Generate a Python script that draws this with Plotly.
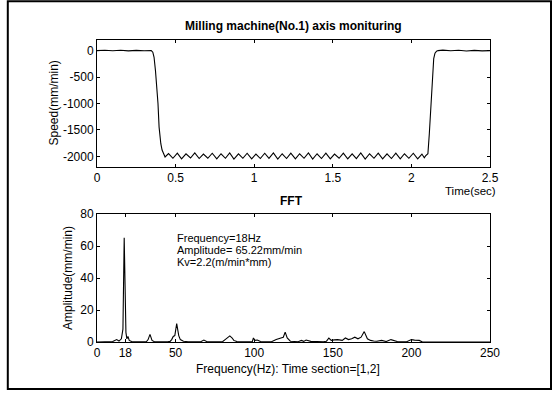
import plotly.graph_objects as go

# ---------------- data ----------------
time_s = [0.0, 0.05, 0.10, 0.15, 0.20, 0.25, 0.30, 0.345,
          0.355, 0.363, 0.372, 0.380, 0.388, 0.395, 0.401, 0.406, 0.414, 0.423, 0.433,
          0.455, 0.483, 0.511, 0.538, 0.566, 0.595, 0.622, 0.650, 0.677, 0.705,
          0.733, 0.762, 0.789, 0.817, 0.844, 0.871, 0.900, 0.928, 0.955, 0.984,
          1.011, 1.039, 1.067, 1.094, 1.122, 1.150, 1.178, 1.206, 1.233, 1.262,
          1.289, 1.317, 1.345, 1.372, 1.400, 1.428, 1.456, 1.484, 1.511, 1.540,
          1.567, 1.595, 1.623, 1.650, 1.678, 1.706, 1.734, 1.762, 1.789, 1.817,
          1.845, 1.873, 1.901, 1.929, 1.956, 1.984, 2.012, 2.040, 2.067, 2.082,
          2.090, 2.100, 2.105, 2.114, 2.120, 2.125, 2.130, 2.135, 2.142, 2.150,
          2.160, 2.170, 2.20, 2.25, 2.30, 2.35, 2.40, 2.45, 2.50]
speed = [0, 6, -4, 5, -6, 4, -3, 0,
         -30, -126, -380, -630, -1000, -1447, -1650, -1760, -1880, -1950, -2010,
         -1945, -2035, -1940, -2045, -1950, -2030, -1935, -2040, -1955, -2035,
         -1940, -2045, -1950, -2035, -1935, -2050, -1950, -2035, -1940, -2045,
         -1955, -2040, -1940, -2035, -1935, -2050, -1950, -2040, -1940, -2045,
         -1950, -2035, -1935, -2050, -1950, -2040, -1940, -2045, -1955, -2035,
         -1940, -2045, -1950, -2040, -1935, -2050, -1950, -2035, -1940, -2045,
         -1950, -2040, -1940, -2045, -1950, -2035, -1940, -2045, -1955, -2025,
         -1990, -1960, -1950, -1572, -1250, -943, -600, -315, -150, -50,
         -10, 0, 8, -4, 6, -7, 3, -5, 0]

freq_hz = [0, 10, 12.5, 14, 15.5, 16.5, 17.3, 18.4, 19.0, 19.7, 20.5, 22,
           28, 30.5, 31.5, 32.5, 33.7, 35, 36.5,
           45, 46.5, 47.5, 48.5, 49.5, 50.7, 52, 53, 55, 58,
           66, 68, 70,
           80, 81.5, 83, 84.5, 86, 87, 89,
           98.8, 99.5, 100.5, 102, 104,
           111, 112, 114, 117, 118.5, 119.7, 121, 123,
           128, 130, 131.5, 133, 136,
           144, 146, 147.5, 149, 151, 153, 156, 158, 160, 162, 164, 166, 168,
           170, 172, 174, 176, 178, 181, 184, 187, 189, 191,
           197, 198, 200, 202, 205, 207, 250]
amplitude = [0, 0.3, 1.5, 0.6, 2, 8, 65.22, 6, 2, 3.5, 1, 0.3,
             0.2, 0.6, 0.3, 1.5, 4.8, 1, 0.2,
             0.2, 0.4, 1.5, 3.5, 4, 11.5, 4, 1.5, 0.5, 0.2,
             0.2, 1.2, 0.2,
             0.3, 1.5, 2.8, 3.8, 2.5, 1, 0.3,
             0.2, 2.5, 1, 1.2, 0.3,
             0.2, 0.5, 1.5, 2.5, 3, 6.2, 2.5, 0.5,
             0.2, 1, 0.4, 1.2, 0.4,
             0.2, 0.5, 2.5, 1, 1.3, 1.5, 1, 2.5, 1.5, 2, 3, 2, 3,
             6.5, 2, 1, 0.6, 0.5, 1, 0.3, 1.5, 1, 0.3,
             0.2, 0.5, 1.5, 1.2, 1, 0, 0]

top_xticks = [0, 0.5, 1, 1.5, 2, 2.5]
top_yticks = [0, -500, -1000, -1500, -2000]
bot_xticks = [0, 18, 50, 100, 150, 200, 250]
bot_yticks = [0, 20, 40, 60, 80]

peak_lines = ["Frequency=18Hz", "Amplitude= 65.22mm/min", "Kv=2.2(m/min*mm)"]
peak_line_px = [237.5, 249.5, 261.5]

# ---------------- figure ----------------
FONT = "Liberation Sans, Arial, Helvetica, sans-serif"
FS = 12
W, H = 556, 396
L, R, T, B = 97, 66, 40, 54
PW, PH = W - L - R, H - T - B


def px(x):
    return (x - L) / PW


def py(y):
    return (H - B - y) / PH


fig = go.Figure()
fig.add_trace(go.Scatter(x=time_s, y=speed, mode="lines",
                         line=dict(color="black", width=1.1),
                         xaxis="x", yaxis="y", showlegend=False))
fig.add_trace(go.Scatter(x=freq_hz, y=amplitude, mode="lines",
                         line=dict(color="black", width=1.1),
                         xaxis="x2", yaxis="y2", showlegend=False))

axis_common = dict(showline=True, linecolor="black", linewidth=1, mirror="ticks",
                   ticks="inside", ticklen=3, tickwidth=1, tickcolor="black",
                   showgrid=False, zeroline=False,
                   tickfont=dict(family=FONT, size=FS, color="black"))

fig.update_layout(
    width=W, height=H,
    margin=dict(l=L, r=R, t=T, b=B),
    paper_bgcolor="white", plot_bgcolor="white",
    xaxis=dict(domain=[0, 1], range=[0, 2.5], tickvals=top_xticks,
               ticktext=[f"{v:g}" for v in top_xticks], anchor="y", **axis_common),
    yaxis=dict(domain=[py(167), 1], range=[-2200, 200], tickvals=top_yticks,
               ticktext=[f"{v:g}" for v in top_yticks], anchor="x", **axis_common),
    xaxis2=dict(domain=[0, 1], range=[0, 250], tickvals=bot_xticks,
                ticktext=[str(v) for v in bot_xticks], anchor="y2", **axis_common),
    yaxis2=dict(domain=[0, py(214)], range=[0, 80], tickvals=bot_yticks,
                ticktext=[str(v) for v in bot_yticks], anchor="x2", **axis_common),
)


def label(text, x, y, angle=0, size=FS, xanchor="center"):
    return dict(text=text, x=px(x), y=py(y), xref="paper", yref="paper",
                xanchor=xanchor, yanchor="middle", showarrow=False, textangle=angle,
                borderpad=0, font=dict(family=FONT, size=size, color="black"))


ann = [
    label("<b>Milling machine(No.1) axis monituring</b>", 293, 26),
    label("<b>FFT</b>", 291, 201),
    label("Time(sec)", 470, 191, size=11.5),
    label("Frequency(Hz): Time section=[1,2]", 288, 369),
    label("Speed(mm/min)", 53, 103.5, angle=-90),
    label("Amplitude(mm/min)", 68, 278, angle=-90),
]
for txt, yv in zip(peak_lines, peak_line_px):
    ann.append(label(txt, 176, yv, size=11, xanchor="left"))
fig.update_layout(annotations=ann)

fig.add_shape(type="rect", xref="paper", yref="paper",
              x0=px(7.8), x1=px(551), y0=py(389), y1=py(1.2),
              line=dict(color="black", width=2), fillcolor="rgba(0,0,0,0)")

fig.write_html("out.html")
